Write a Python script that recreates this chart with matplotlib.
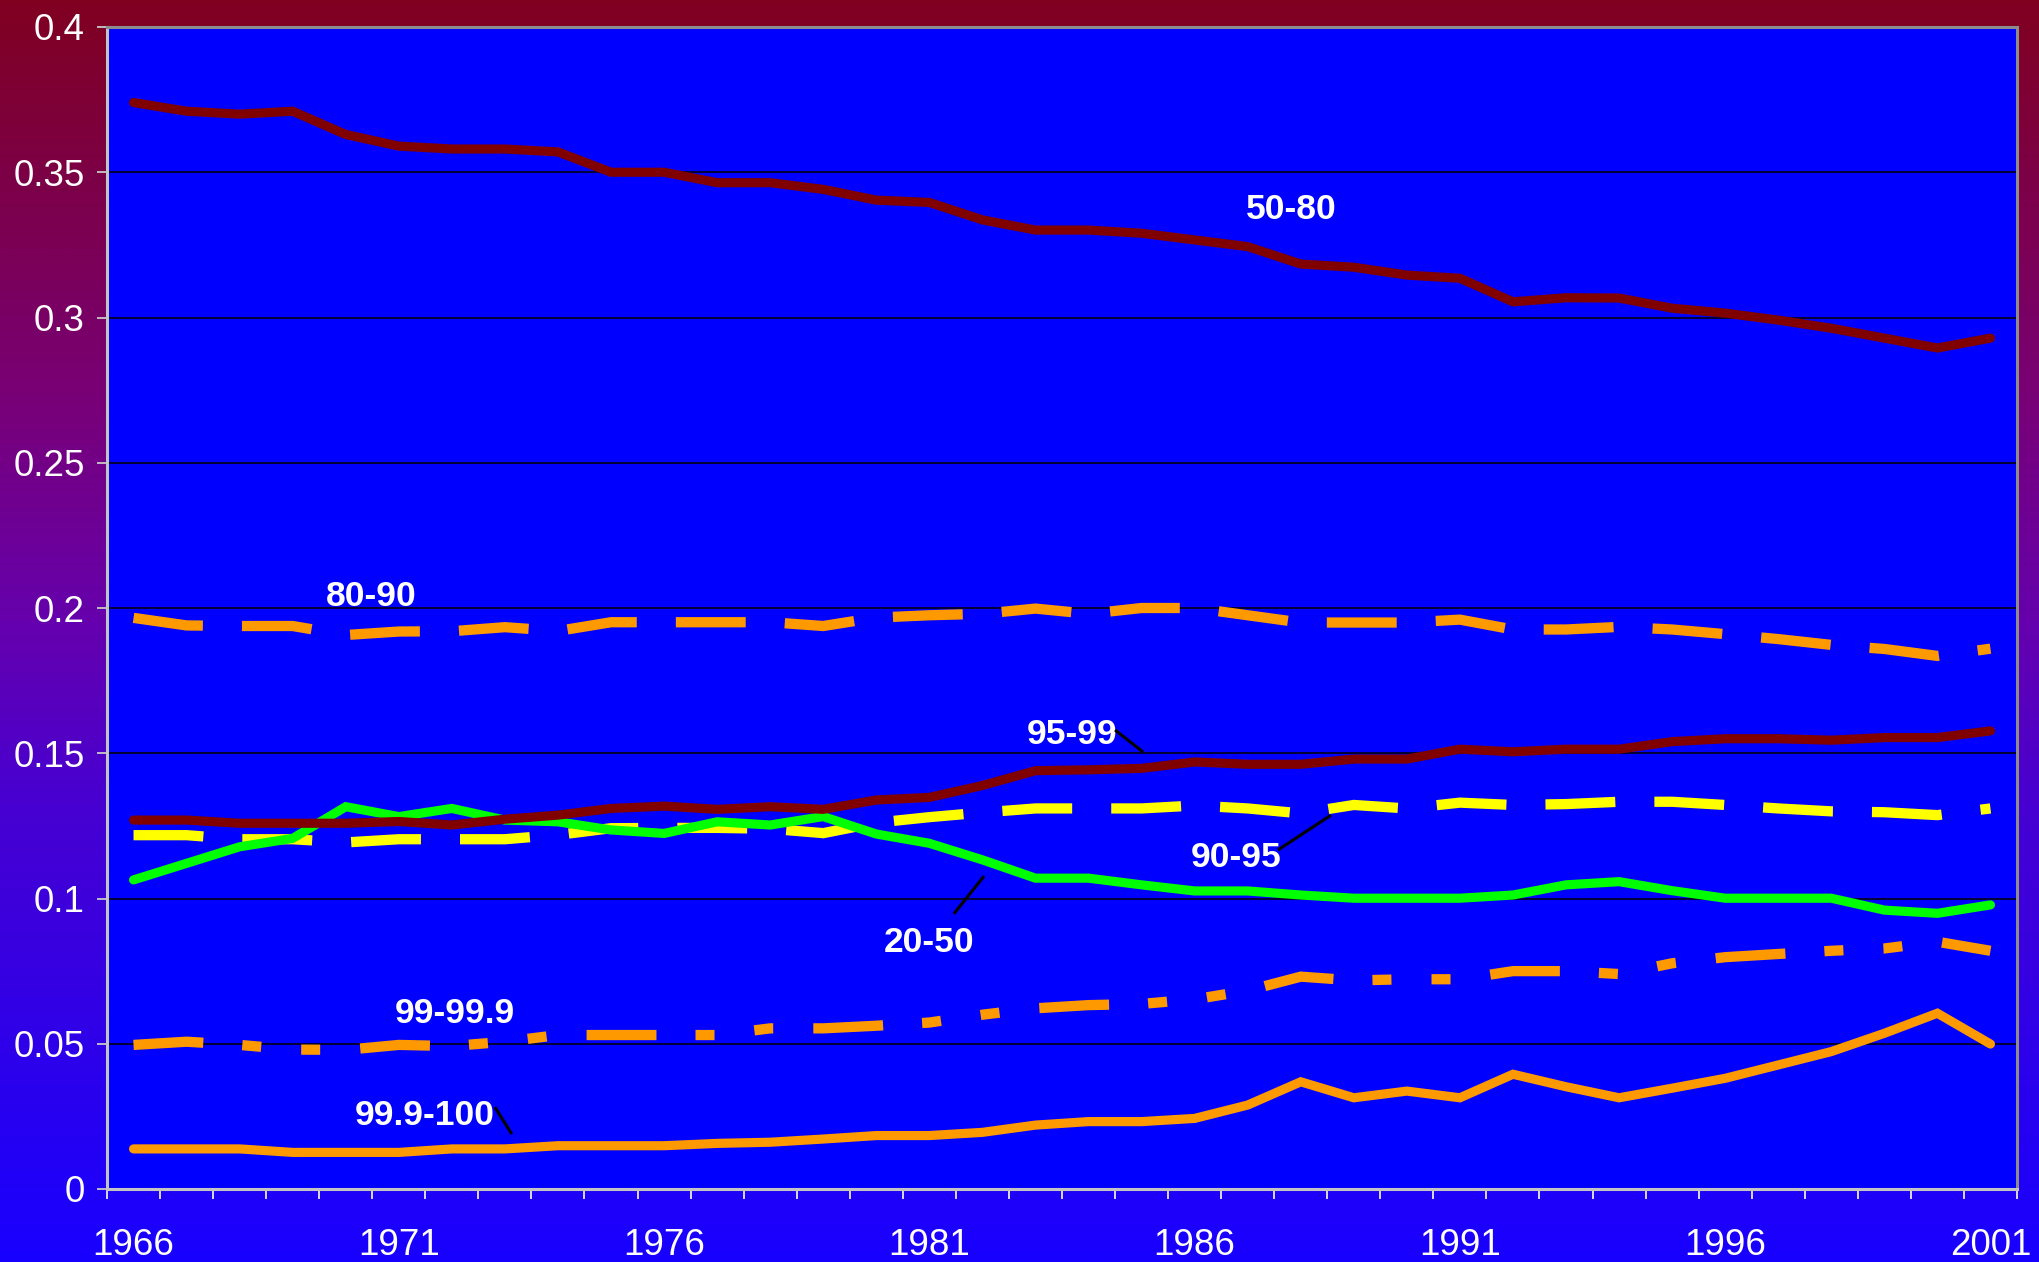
import numpy as np
import matplotlib
matplotlib.use("Agg")
import matplotlib.pyplot as plt
from matplotlib.colors import LinearSegmentedColormap

plt.rcParams['font.family'] = ['Liberation Sans', 'DejaVu Sans']

# ---- data: income shares by fractile group, 1966-2001 ----
years = list(range(1966, 2002))
tick_years = [1966, 1971, 1976, 1981, 1986, 1991, 1996, 2001]
y_ticks = [0, 0.05, 0.1, 0.15, 0.2, 0.25, 0.3, 0.35, 0.4]
y_tick_labels = ["0", "0.05", "0.1", "0.15", "0.2", "0.25", "0.3", "0.35", "0.4"]

share_20_50 = [0.1064, 0.1121, 0.1178, 0.1207, 0.1316, 0.1282, 0.1310, 0.1270, 0.1264, 0.1236,
               0.1224, 0.1264, 0.1253, 0.1282, 0.1222, 0.1190, 0.1133, 0.1070, 0.1070, 0.1047,
               0.1026, 0.1026, 0.1012, 0.1001, 0.1001, 0.1001, 0.1012, 0.1047, 0.1058, 0.1027,
               0.1001, 0.1001, 0.1001, 0.0960, 0.0949, 0.0978]
share_50_80 = [0.374, 0.371, 0.370, 0.371, 0.363, 0.359, 0.358, 0.358, 0.357, 0.350,
               0.350, 0.3464, 0.3464, 0.3441, 0.3404, 0.3396, 0.3336, 0.3301, 0.3301, 0.329,
               0.3267, 0.3244, 0.3184, 0.3173, 0.3146, 0.3135, 0.3054, 0.3068, 0.3067, 0.3032,
               0.3015, 0.2991, 0.2963, 0.2929, 0.2895, 0.2929]
share_80_90 = [0.1966, 0.1940, 0.1938, 0.1938, 0.1907, 0.1919, 0.1920, 0.1934, 0.1921, 0.1951,
               0.1951, 0.1951, 0.1951, 0.1938, 0.1967, 0.1975, 0.1980, 0.1998, 0.1980, 0.2000,
               0.2000, 0.1975, 0.1950, 0.1950, 0.1950, 0.1960, 0.1926, 0.1926, 0.1935, 0.1926,
               0.1910, 0.1893, 0.1873, 0.1859, 0.1835, 0.1860]
share_90_95 = [0.1218, 0.1218, 0.1204, 0.1204, 0.1193, 0.1204, 0.1204, 0.1204, 0.1219, 0.1242,
               0.1243, 0.1243, 0.1240, 0.1225, 0.1261, 0.1280, 0.1296, 0.1310, 0.1310, 0.1310,
               0.1320, 0.1310, 0.1293, 0.1322, 0.1310, 0.1330, 0.1322, 0.1325, 0.1333, 0.1333,
               0.1322, 0.1310, 0.1300, 0.1297, 0.1287, 0.1310]
share_95_99 = [0.1270, 0.1270, 0.1259, 0.1259, 0.1259, 0.1265, 0.1253, 0.1273, 0.1287, 0.1310,
               0.1318, 0.1307, 0.1316, 0.1307, 0.1339, 0.1348, 0.1389, 0.1440, 0.1443, 0.1448,
               0.1470, 0.1462, 0.1462, 0.1480, 0.1480, 0.1514, 0.1505, 0.1514, 0.1514, 0.1540,
               0.1550, 0.1550, 0.1545, 0.1554, 0.1554, 0.1577]
share_99_999 = [0.0496, 0.0507, 0.0496, 0.0480, 0.0479, 0.0496, 0.0492, 0.0507, 0.0530, 0.0530,
                0.0530, 0.0530, 0.0553, 0.0553, 0.0562, 0.0573, 0.0600, 0.0622, 0.0633, 0.0637,
                0.0653, 0.0683, 0.0731, 0.0718, 0.0722, 0.0722, 0.0750, 0.0750, 0.0740, 0.0777,
                0.0798, 0.0809, 0.0820, 0.0828, 0.0851, 0.0820]
share_999_100 = [0.0138, 0.0138, 0.0138, 0.0126, 0.0126, 0.0126, 0.0138, 0.0138, 0.0149, 0.0149,
                 0.0149, 0.0157, 0.0161, 0.0172, 0.0184, 0.0184, 0.0195, 0.0220, 0.0232, 0.0232,
                 0.0243, 0.0289, 0.0369, 0.0314, 0.0337, 0.0314, 0.0395, 0.0352, 0.0314, 0.0347,
                 0.0381, 0.0427, 0.0473, 0.0536, 0.0605, 0.0499]

W, H = 2040, 1262
fig = plt.figure(figsize=(W / 100, H / 100), dpi=100)

# ---- vertical gradient backdrop: dark red at top to blue at bottom ----
bg = fig.add_axes([0, 0, 1, 1], zorder=-10)
stops = [(0.0, (128/255, 0, 32/255)),
         (0.32, (120/255, 0, 120/255)),
         (0.50, (100/255, 0, 175/255)),
         (0.63, (72/255, 0, 208/255)),
         (1.0, (24/255, 0, 1.0))]
cmap = LinearSegmentedColormap.from_list("bgfade", stops)
grad = np.linspace(0, 1, 512).reshape(-1, 1)
bg.imshow(grad, cmap=cmap, aspect='auto', extent=[0, 1, 0, 1], origin='upper')
bg.set_axis_off()

# ---- plot area ----
left, right, top, bottom = 107, 2017, 27, 1189
ax = fig.add_axes([left / W, 1 - bottom / H, (right - left) / W, (bottom - top) / H])
ax.set_facecolor('#0000FF')

x = np.arange(len(years))
ax.set_xlim(-0.5, len(years) - 0.5)
ax.set_ylim(0, 0.4)

ax.set_yticks(y_ticks)
ax.set_yticklabels(y_tick_labels)
ax.yaxis.grid(True, color='black', linewidth=1.1)
ax.set_axisbelow(True)

ax.set_xticks([years.index(yv) for yv in tick_years])
ax.set_xticklabels([str(yv) for yv in tick_years])
ax.set_xticks(np.arange(-0.5, len(years)), minor=True)

ax.tick_params(axis='y', which='major', length=7, width=1.3, color='#C8C8C8',
               labelcolor='white', labelsize=26.5, pad=9)
ax.tick_params(axis='x', which='major', length=0, labelcolor='white',
               labelsize=26.5, pad=28)
ax.tick_params(axis='x', which='minor', length=7, width=1.3, color='#E8E8E8')

for side in ('top', 'right'):
    ax.spines[side].set_color('#8C8C8C')
    ax.spines[side].set_linewidth(2.2)
for side in ('left', 'bottom'):
    ax.spines[side].set_color('#C4C4C4')
    ax.spines[side].set_linewidth(2.2)

solid_kw = dict(linewidth=6.6, solid_capstyle='round', solid_joinstyle='miter')
dash_kw = dict(linewidth=7.4, dash_capstyle='butt', dash_joinstyle='miter')

ax.plot(x, share_90_95, color='#FFFF00', dashes=(6.8, 3.8), zorder=3, **dash_kw)
ax.plot(x, share_80_90, color='#FF9900', dashes=(6.8, 3.8), zorder=3, **dash_kw)
ax.plot(x, share_99_999, color='#FF9900', dashes=(6.8, 3.8, 1.85, 3.9, 1.85, 3.9), zorder=3, **dash_kw)
ax.plot(x, share_20_50, color='#00FF00', zorder=4, **solid_kw)
ax.plot(x, share_95_99, color='#800000', zorder=5, **solid_kw)
ax.plot(x, share_50_80, color='#800000', zorder=5, **solid_kw)
ax.plot(x, share_999_100, color='#FF9900', zorder=5, **solid_kw)

# ---- series labels and leader lines ----
lab_kw = dict(color='white', fontsize=25.5, fontweight='bold', ha='center', va='center', zorder=6)
ax.text(21.83, 0.3372, "50-80", **lab_kw)
ax.text(4.48, 0.2040, "80-90", **lab_kw)
ax.text(17.70, 0.1566, "95-99", **lab_kw)
ax.text(20.78, 0.1142, "90-95", **lab_kw)
ax.text(14.99, 0.0850, "20-50", **lab_kw)
ax.text(6.06, 0.0605, "99-99.9", **lab_kw)
ax.text(5.49, 0.0254, "99.9-100", **lab_kw)

lead_kw = dict(color='black', linewidth=2.2, zorder=6, solid_capstyle='butt')
ax.plot([18.50, 19.03], [0.1580, 0.1504], **lead_kw)
ax.plot([21.57, 22.57], [0.1167, 0.1287], **lead_kw)
ax.plot([15.46, 16.03], [0.0947, 0.1077], **lead_kw)
ax.plot([6.81, 7.13], [0.0282, 0.0189], **lead_kw)

fig.savefig("out.png", dpi=100)
